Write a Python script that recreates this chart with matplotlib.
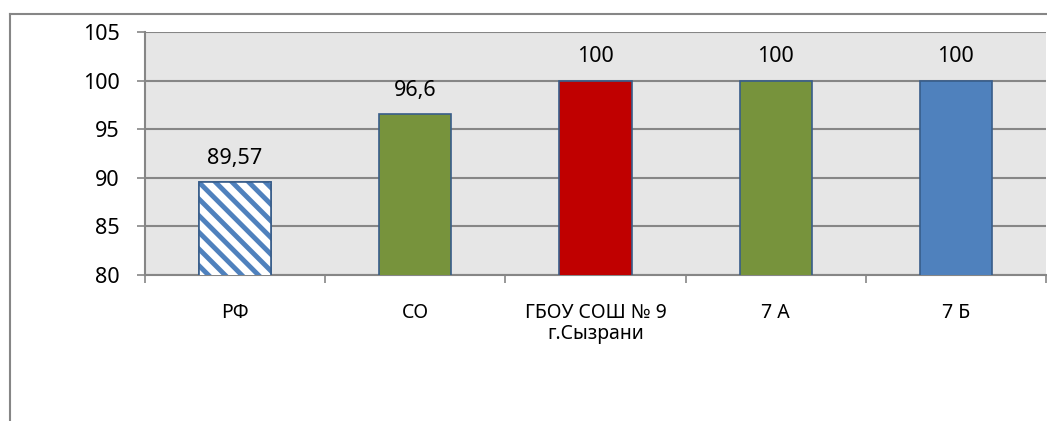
import numpy as np
import matplotlib
matplotlib.use('Agg')
import matplotlib.pyplot as plt
from matplotlib.lines import Line2D

#%% данные
categorias = ['РФ', 'СО', 'ГБОУ СОШ № 9\nг.Сызрани', '7 А', '7 Б']
valores = [89.57, 96.6, 100, 100, 100]
etiquetas = ['89,57', '96,6', '100', '100', '100']
colores = ['white', '#77933C', '#C00000', '#77933C', '#4F81BD']

plt.rcParams['font.family'] = ['Noto Sans', 'DejaVu Sans']
plt.rcParams['hatch.linewidth'] = 3.5

fig = plt.figure(figsize=(10.47, 4.21), dpi=100)
ax = fig.add_axes([145/1047, 146/421, 901/1047, 243/421])
ax.set_facecolor('#E6E6E6')

x = np.arange(len(categorias))
ax.bar(x, valores, width=0.4, color=colores, edgecolor='#385D8A', linewidth=1.2, zorder=3)
# barra rayada del primer grupo
ax.bar(x[0], valores[0], width=0.4, color='white', edgecolor='#4F81BD', hatch='\\\\', linewidth=0, zorder=3)
ax.bar(x[0], valores[0], width=0.4, fill=False, edgecolor='#385D8A', linewidth=1.2, zorder=4)

for xi, v, t in zip(x, valores, etiquetas):
    ax.annotate(t, (xi, v), xytext=(0, 17), textcoords='offset points',
                ha='center', va='center', fontsize=15.5)

ax.set_ylim(80, 105)
ax.set_xlim(-0.5, len(categorias) - 0.5)
ax.set_yticks(np.arange(80, 106, 5))
ax.yaxis.grid(True, color='#868686', linewidth=1.5, zorder=0)
ax.tick_params(axis='y', length=6, width=1.2, color='#868686', pad=12, labelsize=15.5)

ax.set_xticks(np.arange(-0.5, len(categorias)), minor=False)
ax.set_xticklabels([])
ax.set_xticks(x, minor=True)
ax.set_xticklabels(categorias, minor=True, fontsize=14)
ax.tick_params(axis='x', which='major', length=6, width=1.2, color='#868686')
ax.tick_params(axis='x', which='minor', length=0, pad=20)
for lbl in ax.get_xticklabels(minor=True):
    lbl.set_linespacing(1.05)

for s in ['top', 'right']:
    ax.spines[s].set_visible(False)
for s in ['left', 'bottom']:
    ax.spines[s].set_color('#868686')
    ax.spines[s].set_linewidth(1.5)

# marco exterior del gráfico
fig.add_artist(Line2D([10/1047, 10/1047], [0, 1 - 14/421], color='#868686', linewidth=1.5))
fig.add_artist(Line2D([10/1047, 1], [1 - 14/421, 1 - 14/421], color='#868686', linewidth=1.5))

plt.savefig('out.png', dpi=100)
